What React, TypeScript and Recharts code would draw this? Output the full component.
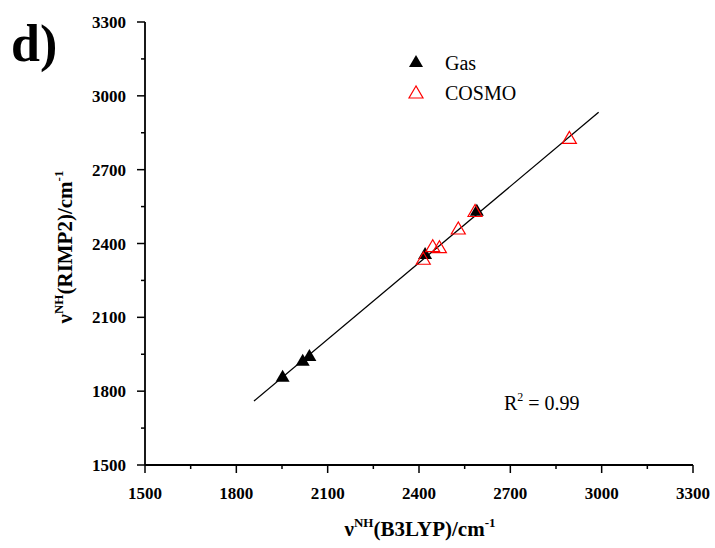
import { ScatterChart, Scatter, XAxis, YAxis } from "recharts";

const gasPoints = [
  { x: 1952, y: 1859 },
  { x: 2018, y: 1924 },
  { x: 2040, y: 1943 },
  { x: 2420, y: 2357 },
  { x: 2590, y: 2533 },
];

const cosmoPoints = [
  { x: 2414, y: 2336 },
  { x: 2445, y: 2387 },
  { x: 2467, y: 2383 },
  { x: 2529, y: 2459 },
  { x: 2584, y: 2530 },
  { x: 2894, y: 2827 },
];

// linear fit, end points
const fitLine = [
  { x: 1858, y: 1760 },
  { x: 2990, y: 2933 },
];

const axisTicks = [1500, 1650, 1800, 1950, 2100, 2250, 2400, 2550, 2700, 2850, 3000, 3150, 3300];

const serif = "Liberation Serif";

function tickLen(v: number) {
  return v % 300 === 0 ? 8 : 4;
}

function BottomTick({ x, y, payload }: any) {
  const v = payload.value;
  return (
    <g>
      <line x1={x} y1={y} x2={x} y2={y + tickLen(v)} stroke="#000" strokeWidth={1.5} />
      {v % 300 === 0 && (
        <text x={x} y={y + 34} textAnchor="middle" style={{ fontFamily: serif, fontWeight: 700, fontSize: 17 }} fill="#000">
          {v}
        </text>
      )}
    </g>
  );
}

function LeftTick({ x, y, payload }: any) {
  const v = payload.value;
  return (
    <g>
      <line x1={x} y1={y} x2={x - tickLen(v)} y2={y} stroke="#000" strokeWidth={1.5} />
      {v % 300 === 0 && (
        <text x={x - 19} y={y + 6} textAnchor="end" style={{ fontFamily: serif, fontWeight: 700, fontSize: 17 }} fill="#000">
          {v}
        </text>
      )}
    </g>
  );
}

function TopTick({ x, y, payload }: any) {
  return <line x1={x} y1={y} x2={x} y2={y - tickLen(payload.value)} stroke="#000" strokeWidth={1.5} />;
}

function RightTick({ x, y, payload }: any) {
  return <line x1={x} y1={y} x2={x + tickLen(payload.value)} y2={y} stroke="#000" strokeWidth={1.5} />;
}

function FilledTriangle({ cx, cy }: any) {
  return <polygon points={`${cx},${cy - 7} ${cx - 7},${cy + 5} ${cx + 7},${cy + 5}`} fill="#000" />;
}

function OpenTriangle({ cx, cy }: any) {
  return (
    <polygon
      points={`${cx},${cy - 7} ${cx - 7},${cy + 5} ${cx + 7},${cy + 5}`}
      fill="none"
      stroke="#ff0000"
      strokeWidth={1.2}
    />
  );
}

function LegendBox() {
  return (
    <svg width={120} height={60} style={{ position: "absolute", left: 408, top: 54, overflow: "visible" }}>
      <polygon points="8,1 1,13 15,13" fill="#000" />
      <text x={37} y={16} style={{ fontFamily: serif, fontSize: 20 }} fill="#000">Gas</text>
      <polygon points="8,32 1,44 15,44" fill="none" stroke="#ff0000" strokeWidth={1.2} />
      <text x={37} y={46} style={{ fontFamily: serif, fontSize: 20 }} fill="#000">COSMO</text>
    </svg>
  );
}

export default function App() {
  const frame = { stroke: "#000", strokeWidth: 1.8 };
  return (
    <div style={{ position: "absolute", left: 0, top: 0, width: 715, height: 548, background: "#fff" }}>
      <ScatterChart width={715} height={548} margin={{ top: 22, right: 22, bottom: 0, left: 0 }}>
        <XAxis
          type="number"
          dataKey="x"
          xAxisId="b"
          domain={[1500, 3300]}
          ticks={axisTicks}
          interval={0}
          height={83}
          tickSize={0}
          tickMargin={0}
          tick={<BottomTick />}
          axisLine={frame}
          allowDataOverflow
        />
        <XAxis
          type="number"
          dataKey="x"
          xAxisId="t"
          orientation="top"
          domain={[1500, 3300]}
          ticks={axisTicks}
          interval={0}
          height={0}
          tickSize={0}
          tickMargin={0}
          tick={<TopTick />}
          axisLine={frame}
          allowDataOverflow
        />
        <YAxis
          type="number"
          dataKey="y"
          yAxisId="l"
          domain={[1500, 3300]}
          ticks={axisTicks}
          interval={0}
          width={145}
          tickSize={0}
          tickMargin={0}
          tick={<LeftTick />}
          axisLine={frame}
          allowDataOverflow
        />
        <YAxis
          type="number"
          dataKey="y"
          yAxisId="r"
          orientation="right"
          domain={[1500, 3300]}
          ticks={axisTicks}
          interval={0}
          width={0}
          tickSize={0}
          tickMargin={0}
          tick={<RightTick />}
          axisLine={frame}
          allowDataOverflow
        />
        <Scatter
          xAxisId="t"
          yAxisId="r"
          data={fitLine}
          line={{ stroke: "#000", strokeWidth: 1.3 }}
          shape={() => null}
          legendType="none"
          isAnimationActive={false}
        />
        <Scatter xAxisId="b" yAxisId="l" name="Gas" data={gasPoints} shape={<FilledTriangle />} isAnimationActive={false} />
        <Scatter xAxisId="b" yAxisId="l" name="COSMO" data={cosmoPoints} shape={<OpenTriangle />} isAnimationActive={false} />
        <text x={11} y={61} style={{ fontFamily: serif, fontWeight: 700, fontSize: 52 }} fill="#000">d)</text>
        <text x={504} y={410} style={{ fontFamily: serif, fontSize: 20 }} fill="#000">
          R<tspan fontSize={12} dy={-9}>2</tspan>
          <tspan dy={9}> = 0.99</tspan>
        </text>
        <text x={420} y={536} textAnchor="middle" style={{ fontFamily: serif, fontWeight: 700, fontSize: 21 }} fill="#000">
          ν<tspan fontSize={13} dy={-9}>NH</tspan>
          <tspan dy={9}>(B3LYP)/cm</tspan>
          <tspan fontSize={13} dy={-9}>-1</tspan>
        </text>
        <text
          x={0}
          y={0}
          transform="translate(72, 247) rotate(-90)"
          textAnchor="middle"
          style={{ fontFamily: serif, fontWeight: 700, fontSize: 21 }}
          fill="#000"
        >
          ν<tspan fontSize={13} dy={-9}>NH</tspan>
          <tspan dy={9}>(RIMP2)/cm</tspan>
          <tspan fontSize={13} dy={-9}>-1</tspan>
        </text>
      </ScatterChart>
      <LegendBox />
    </div>
  );
}
